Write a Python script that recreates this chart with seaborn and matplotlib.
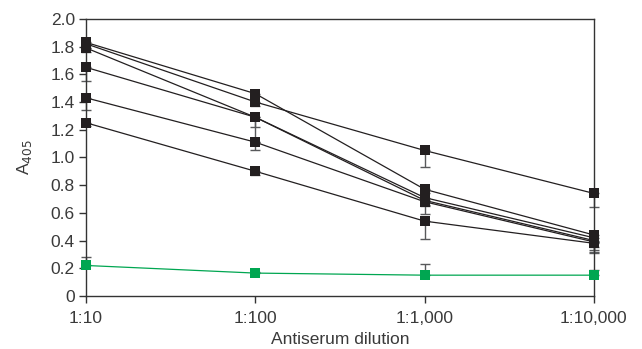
import matplotlib
matplotlib.use("Agg")
import matplotlib.pyplot as plt
import seaborn as sns
import pandas as pd
import numpy as np

dilutions = [10, 100, 1000, 10000]
x_labels = ["1:10", "1:100", "1:1,000", "1:10,000"]

s1 = [1.83, 1.46, 0.77, 0.44]
s2 = [1.82, 1.40, 1.05, 0.74]
s3 = [1.79, 1.29, 0.71, 0.42]
s4 = [1.65, 1.29, 0.69, 0.40]
s5 = [1.43, 1.11, 0.68, 0.39]
s6 = [1.25, 0.90, 0.54, 0.38]
control = [0.22, 0.165, 0.15, 0.15]

# error magnitudes (drawn on one side, as in the reference)
e1 = [0.02, 0.02, 0.03, 0.05]
e2 = [0.03, 0.03, 0.12, 0.10]
e3 = [0.03, 0.07, 0.05, 0.07]
e4 = [0.10, 0.18, 0.10, 0.08]
e5 = [0.09, 0.06, 0.03, 0.06]
e6 = [0.02, 0.03, 0.13, 0.07]
e_control = [0.06, 0.01, 0.08, 0.04]

series_names = ["S1", "S2", "S3", "S4", "S5", "S6", "Control"]
series_vals = [s1, s2, s3, s4, s5, s6, control]
series_errs = [e1, e2, e3, e4, e5, e6, e_control]

rows = []
for name, vals, errs in zip(series_names, series_vals, series_errs):
    for d, v, e in zip(dilutions, vals, errs):
        rows.append({"series": name, "dilution": d, "A405": v, "err": e})
df = pd.DataFrame(rows)

black = "#231f20"
green = "#00a651"
palette = {n: black for n in series_names[:-1]}
palette["Control"] = green

sns.set_style("white")
plt.rcParams["font.family"] = ["Liberation Sans", "DejaVu Sans"]

fig = plt.figure(figsize=(6.42, 3.49), dpi=100)
ax = fig.add_axes([0.134, 0.152, 0.791, 0.794])

# error bars
for name in series_names:
    sub = df[df.series == name]
    zeros = np.zeros(len(sub))
    if name == "Control":
        yerr = [zeros, sub.err.values]
    else:
        yerr = [sub.err.values, zeros]
    eb = ax.errorbar(sub.dilution, sub.A405, yerr=yerr, fmt="none",
                     ecolor="#58595b", elinewidth=1.0, capsize=3.5,
                     capthick=1.0, zorder=2)
    for art in eb.lines[1] + eb.lines[2]:
        art.set_clip_on(False)

sns.lineplot(data=df, x="dilution", y="A405", hue="series", palette=palette,
             marker="s", markersize=7, markeredgewidth=0, linewidth=0.9,
             legend=False, ax=ax, zorder=3)
for ln in ax.lines:
    ln.set_clip_on(False)

ax.set_xscale("log")
ax.set_xlim(10, 10000)
ax.set_ylim(0, 2.0)
ax.set_xticks(dilutions)
ax.set_xticklabels(x_labels)
ax.minorticks_off()
yt = np.arange(0, 2.01, 0.2)
ax.set_yticks(yt)
ax.set_yticklabels(["0" if abs(v) < 1e-9 else f"{v:.1f}" for v in yt])

for sp in ax.spines.values():
    sp.set_visible(True)
    sp.set_color("#333333")
    sp.set_linewidth(1.0)

txt = "#3a3a3a"
ax.tick_params(axis="both", direction="out", length=5, width=1, color="#333333",
               labelsize=12.5, labelcolor=txt, pad=3, bottom=True, left=True)
ax.tick_params(axis="x", pad=6)
ax.set_xlabel("Antiserum dilution", fontsize=12.5, color=txt, labelpad=4)
ax.set_ylabel("A$_{405}$", fontsize=12.5, color=txt, labelpad=12)

fig.savefig("out.png", dpi=100)
